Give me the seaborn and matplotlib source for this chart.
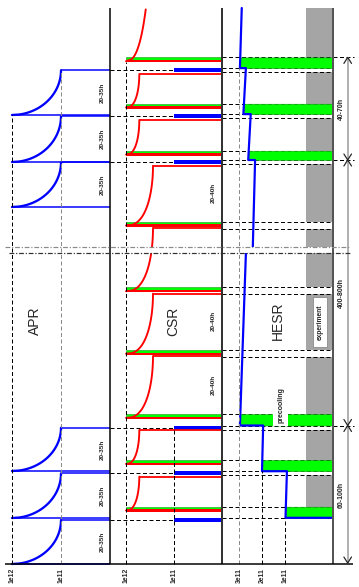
import numpy as np
import pandas as pd
import matplotlib
matplotlib.use("Agg")
import matplotlib.pyplot as plt
from matplotlib.patches import Rectangle
import seaborn as sns

sns.set_style("white")
plt.rcParams["font.family"] = ["Liberation Sans", "DejaVu Sans"]

# ---------------- data ----------------
# schematic time runs upward; each ring has its own intensity axis
tick_labels = ["1e12", "1e11", "1e12", "1e11", "3e11", "2e11", "1e11"]
tick_pos = [12, 61, 126, 174, 239, 262, 285]

# APR accumulation cycles: start / end (= transfer to CSR)
apr_start = [0, 46, 93, 357, 402, 449]
apr_end = [44, 90.7, 136.3, 401.8, 447.7, 493.7]
apr_label = "20-35h"

# CSR: transfer to HESR (green/red bars) and cooling curves
csr_transfer = [54.7, 101.3, 147.3, 211.5, 274.0, 339.7, 410.7, 457.7, 504.0]
csr_cool_end = [87.4, 133.8, 207.9, 270.4, 336.1, 398.2, 444.0, 490.0, 700.0]
csr_cool_level = [139.3, 139.3, 153, 153, 153, 153, 139.3, 139.3, 153]
csr_middle = [3, 4, 5]          # transfers without APR injection
csr_labelled = [2, 3, 5]
csr_label = "20-40h"

# HESR stored intensity (units of 1e11)
hesr_t = [46.2, 46.2, 92.8, 92.8, 138.5, 138.5, 310.7, 316.7, 404.0, 404.0,
          449.9, 449.9, 495.9, 495.9, 556.0]
hesr_I = [0, 1.0, 0.97, 2.0, 1.95, 2.96, 2.70, 2.40, 2.30, 2.60,
          2.49, 2.81, 2.70, 2.96, 2.88]
hesr_inj = [0, 1, 2, 6, 7, 8]
hesr_tick_I = [0, 1, 2, 3]

phases = [("60-100h", 0.0, 138.5), ("400-800h", 138.5, 404.0), ("40-70h", 404.0, 506.6)]
break_t = (310.7, 316.7)
t_top = 556

# ---------------- layout ----------------
A0, A1, AE = 12, 61, 110          # APR 1e12, 1e11, baseline
C0, CB, CE = 126, 173.5, 222      # CSR 1e12, blue bar start, baseline
HE, G0 = 333, 306                 # HESR baseline, grey band start
hesr_x_ticks = [333, 285.5, 262, 239]
XA = 347.7                        # time arrows

BLUE, RED, GREEN = "#0000ff", "#ff0000", "#00ff00"
DASH = (0, (4, 2.5))


def px(v):
    return v * 0.72


def x_of_I(I):
    return np.interp(I, hesr_tick_I, hesr_x_ticks)


def hesr_x_at(t):
    k = int(np.searchsorted(hesr_t, t, side="right") - 1)
    k = min(max(k, 0), len(hesr_t) - 2)
    t0, t1 = hesr_t[k], hesr_t[k + 1]
    I = hesr_I[k] + (hesr_I[k + 1] - hesr_I[k]) * (t - t0) / (t1 - t0)
    return float(x_of_I(I))


fig = plt.figure(figsize=(3.59, 5.87), dpi=100)
ax = fig.add_axes([0, 0, 1, 1])

s = np.linspace(0, 1, 100)

# ---- APR ----
rows = []
for k, (a, b) in enumerate(zip(apr_start, apr_end)):
    frac = np.sqrt(1 - (1 - s) ** 2)
    for xi, ti in zip(A0 + (A1 - A0) * frac, a + (b - a) * s):
        rows.append((k, xi, ti))
apr_df = pd.DataFrame(rows, columns=["cycle", "x", "t"])
sns.lineplot(data=apr_df, x="x", y="t", units="cycle", estimator=None, sort=False,
             color=BLUE, linewidth=px(2.3), ax=ax, legend=False, zorder=3)
ax.hlines(apr_start, A0, AE, color=BLUE, lw=px(1.5), zorder=3)
ax.hlines(apr_end, A1, AE, color=BLUE, lw=px(1.5), zorder=3)
ax.hlines(apr_end, AE, CB, color="k", lw=px(1.0), linestyles=DASH, zorder=2)
for a, b in zip(apr_start, apr_end):
    ax.text(102.7, (a + b) / 2, apr_label, rotation=90, ha="center", va="center",
            fontsize=4.6, fontweight="bold", zorder=8)

# ---- CSR ----
for e in apr_end:
    ax.fill_between([CB, CE], e - 2.15, e + 2.15, color=BLUE, lw=0, zorder=3)
for tr in csr_transfer:
    ax.fill_between([C0, CE], tr, tr + 2.6, facecolor=GREEN, edgecolor="#1a9a1a",
                    lw=0.4, zorder=3)
    ax.fill_between([C0, CE], tr - 2.4, tr, color=RED, lw=0, zorder=3)
rows = []
for k, (a, b, xc) in enumerate(zip(csr_transfer, csr_cool_end, csr_cool_level)):
    frac = (1 - (1 - s) ** 2) ** 0.4
    tt = (a - 1.2) + (b - a + 1.2) * s
    xx = C0 + (xc - C0) * frac
    m = tt <= t_top
    for xi, ti in zip(xx[m], tt[m]):
        rows.append((k, xi, ti))
    if b <= t_top:
        ax.hlines(b, xc, CE, color=RED, lw=px(1.8), zorder=3)
csr_df = pd.DataFrame(rows, columns=["cycle", "x", "t"])
sns.lineplot(data=csr_df, x="x", y="t", units="cycle", estimator=None, sort=False,
             color=RED, linewidth=px(1.9), ax=ax, legend=False, zorder=3)
for k in csr_labelled:
    ax.text(213.5, (csr_transfer[k] + csr_cool_end[k]) / 2 + 2, csr_label, rotation=90,
            ha="center", va="center", fontsize=4.6, fontweight="bold", zorder=8)

# ---- HESR ----
steps = [hesr_t[i] for i in range(len(hesr_t) - 1) if hesr_t[i] == hesr_t[i + 1]]
ax.fill_between([G0, HE], steps[0], t_top, color="#a5a5a5", lw=0, zorder=1)
gaps = [(e - 2.15, e + 2.15) for e in apr_end[1:]]
gaps += [(csr_transfer[k] - 4.2, csr_transfer[k] + 2.6) for k in csr_middle]
gaps += [break_t]
for g0, g1 in gaps:
    ax.fill_between([G0, HE], g0, g1, color="white", lw=0, zorder=1.2)

hd = [e + 2.15 for e in apr_end] + [e - 2.15 for e in apr_end[1:]]
hd += [csr_transfer[j] + 2.6 for j in hesr_inj]
for k in csr_middle:
    hd += [csr_transfer[k] + 2.6, csr_transfer[k] - 4.2]
ax.hlines(hd, CE, HE, color="k", lw=px(1.0), linestyles=DASH, zorder=2)
ax.hlines([p[1] for p in phases[1:]] + [phases[-1][2]], HE, 354, color="k",
          lw=px(1.0), linestyles=DASH, zorder=2)

for m_i, j in enumerate(hesr_inj):
    t0, t1 = steps[m_i], csr_transfer[j] + 2.6
    tg = np.linspace(t0 + 1e-6, t1, 20)
    xl = [hesr_x_at(t) for t in tg]
    ax.fill_betweenx(tg, xl, HE, facecolor=GREEN, edgecolor="#1a9a1a", lw=0.4, zorder=3)
    if m_i == 2:
        ax.fill_between([273.3, 288.3], t0 - 0.6, t1 + 0.6, color="white", lw=0, zorder=3.5)
        ax.text(281, t0 + 2.5, "precooling", rotation=90, ha="center", va="bottom",
                fontsize=5, fontweight="bold", zorder=8)

hesr_df = pd.DataFrame({"t": hesr_t, "x": x_of_I(np.array(hesr_I))})
sns.lineplot(data=hesr_df, x="x", y="t", estimator=None, sort=False, color=BLUE,
             linewidth=px(2.2), ax=ax, legend=False, zorder=4)
ax.hlines(steps[0], hesr_x_ticks[0] - 0.5, HE, color=BLUE, lw=px(2.2), zorder=4)

ax.add_patch(Rectangle((313.3, 216.7), 14, 50, facecolor="white", edgecolor="#8a8a8a",
                       lw=0.6, zorder=4))
ax.text(320.3, 241.7, "experiment", rotation=90, ha="center", va="center",
        fontsize=4.8, fontweight="bold", zorder=8)

# ---- break in time axis ----
ax.fill_between([111, HE], break_t[0], break_t[1], color="white", lw=0, zorder=4.5)

# ---- reference (dashed) verticals ----
verts = [(tick_pos[0], apr_start[-1], "k"), (tick_pos[1], apr_end[-1], "#8a8a8a"),
         (tick_pos[2], csr_transfer[-1] - 2.4, "k"), (CB, apr_end[2], "k"),
         (tick_pos[4], steps[-1], "#8a8a8a"), (tick_pos[5], steps[1], "k"),
         (tick_pos[6], steps[0], "k")]
for xv, tv, cv in verts:
    ax.vlines(xv, 0, tv, color=cv, lw=px(1.0), linestyles=DASH, zorder=4.6)

# panel baselines
ax.vlines(AE, 0, t_top, color="k", lw=px(1.5), zorder=4.6)
ax.vlines(CE, 0, t_top, color="#333333", lw=px(2.0), zorder=4.6)
ax.vlines(HE, 0, t_top, color="#555555", lw=px(2.0), zorder=4.6)
ax.hlines(0, 5, 353, color="k", lw=px(1.5), zorder=5)

ax.hlines(break_t[1], 5, 350, color="#8a8a8a", lw=px(1.2),
          linestyles=(0, (4, 1.5, 1, 1.5)), zorder=7)
ax.hlines(break_t[0], 9, 350, color="#333333", lw=px(1.2),
          linestyles=(0, (4, 1.5, 1, 1.5)), zorder=7)

# ---- time arrows ----
ax.vlines(XA, 1, phases[-1][2], color="#999999", lw=px(1.5), zorder=5)
for lab, a, b in phases:
    a_ = max(a, 1)
    ax.plot([XA - 3.8, XA, XA + 3.8], [b - 6, b, b - 6], color="#222222", lw=px(1.2), zorder=6)
    ax.plot([XA - 3.8, XA, XA + 3.8], [a_ + 6, a_, a_ + 6], color="#222222", lw=px(1.2), zorder=6)
    ax.text(341.7, (a + b) / 2, lab, rotation=90, ha="center", va="center",
            fontsize=5, fontweight="bold", zorder=8)

# ---- ring names and ticks ----
for name, xn in [("APR", 35), ("CSR", 173), ("HESR", 278)]:
    ax.text(xn, 243, name, rotation=90, ha="center", va="center", fontsize=10, zorder=8)
for lab, xp in zip(tick_labels, tick_pos):
    ax.text(xp, -4, lab, rotation=90, ha="center", va="top", fontsize=4.9,
            fontweight="bold", zorder=8)

ax.set_xlim(0, 359)
ax.set_ylim(-23, 564)
ax.axis("off")
fig.savefig("out.png", dpi=100)
